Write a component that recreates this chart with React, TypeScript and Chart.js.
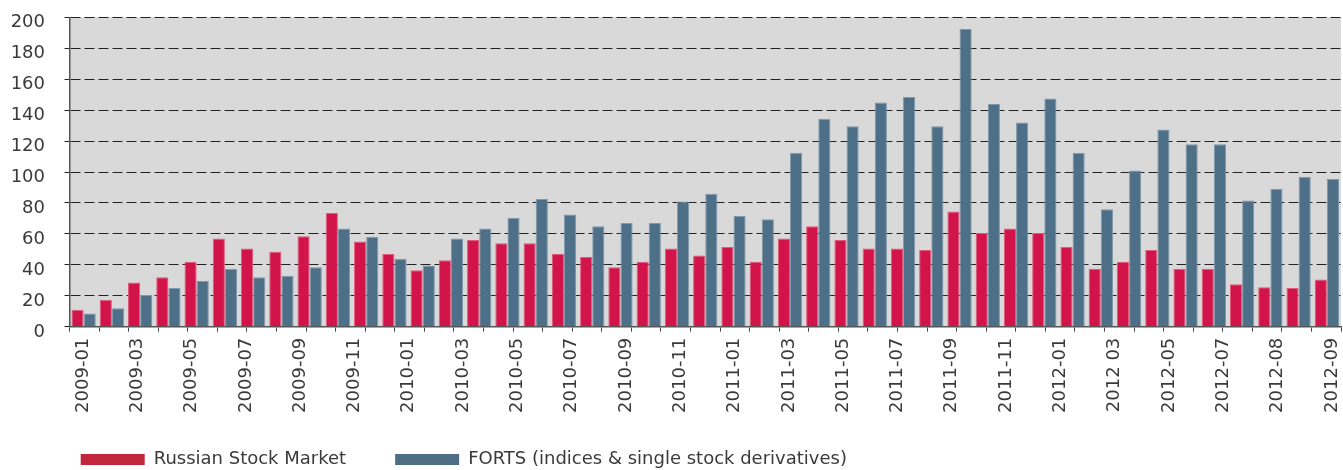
import { useEffect, useRef } from "react";
import { Chart, registerables } from "chart.js";

Chart.register(...registerables);

// ---------- data ----------
const categories = [
  "2009-01", "2009-02", "2009-03", "2009-04", "2009-05", "2009-06", "2009-07", "2009-08", "2009-09", "2009-10", "2009-11", "2009-12",
  "2010-01", "2010-02", "2010-03", "2010-04", "2010-05", "2010-06", "2010-07", "2010-08", "2010-09", "2010-10", "2010-11", "2010-12",
  "2011-01", "2011-02", "2011-03", "2011-04", "2011-05", "2011-06", "2011-07", "2011-08", "2011-09", "2011-10", "2011-11", "2011-12",
  "2012-01", "2012-02", "2012-03", "2012-04", "2012-05", "2012-06", "2012-07", "2012-08", "2012-09",
];

const russianStockMarket = [
  11, 17.5, 28.5, 32, 42, 57, 50.5, 48.5, 58.5, 73.5, 55, 47,
  36.5, 43, 56, 54, 54, 47, 45, 38.5, 42, 50.5, 46, 51.5,
  42, 57, 65, 56, 50.5, 50.5, 49.5, 74.5, 60.5, 63.5, 60.5, 51.5,
  37.5, 42, 49.5, 37.5, 37.5, 27.5, 25.5, 25, 30.5,
];

const forts = [
  8.5, 12, 20.5, 25, 29.5, 37.5, 32, 33, 38.5, 63.5, 58, 44,
  39.5, 57, 63.5, 70.5, 82.5, 72.5, 65, 67, 67, 81, 86, 71.5,
  69.5, 112.5, 134.5, 129.5, 145, 148.5, 129.5, 192.5, 144, 132, 147.5, 112.5,
  76, 101, 127.5, 118, 118, 81.5, 89, 97, 95.5,
];

const xTickLabels = [
  "2009-01", "2009-03", "2009-05", "2009-07", "2009-09", "2009-11",
  "2010-01", "2010-03", "2010-05", "2010-07", "2010-09", "2010-11",
  "2011-01", "2011-03", "2011-05", "2011-07", "2011-09", "2011-11",
  "2012-01", "2012 03", "2012-05", "2012-07", "2012-08", "2012-09",
];

const seriesNames = ["Russian Stock Market", "FORTS (indices & single stock derivatives)"];

const Y_MIN = 0;
const Y_MAX = 200;
const Y_STEP = 20;
const TICK_MARK_COUNT = 44; // tick marks along the bottom axis

// ---------- styles ----------
const FONT_FAMILY = "'DejaVu Sans', 'Liberation Sans', sans-serif";
const FONT_SIZE = 18;
const TEXT_COLOR = "#3a3a3a";
const RED = "#d2144a";
const RED_EDGE = "#e05a7a";
const BLUE = "#4d6f87";
const BLUE_EDGE = "#7f98ab";
const LEGEND_RED = "#c2263f";
const LEGEND_BLUE = "#4e6e86";
const PLOT_BG = "#d9d9d9";
const GRID_COLOR = "#222222";
const AXIS_COLOR = "#555555";

const CHART_TOP = 17.3;
const Y_AXIS_WIDTH = 69.5;
const TICK_AXIS_HEIGHT = 6;
const LABEL_AXIS_HEIGHT = 107.3;
const LEGEND_MAX_HEIGHT = 30;
const LEGEND_PADDING = 49;
const LABEL_MIN = -0.2486;
const LABEL_MAX = 23.168;
const LEGEND_DX = 31.7;
const LEGEND_TOP = 401.5;
const LEGEND_BOTTOM = 470;

const plotBackground = {
  id: "plotBackground",
  beforeDraw(chart: any) {
    const { ctx, chartArea: a } = chart;
    ctx.save();
    ctx.fillStyle = PLOT_BG;
    ctx.fillRect(a.left, a.top, a.right - a.left, a.bottom - a.top);
    ctx.restore();
  },
};

// place the legend block (its own box is kept small so the tick labels have room)
const legendPlacement = {
  id: "legendPlacement",
  afterLayout(chart: any) {
    const l = chart.legend;
    if (!l) return;
    l.left += LEGEND_DX;
    l.right += LEGEND_DX;
    l.top = LEGEND_TOP;
    l.bottom = LEGEND_BOTTOM;
    l.height = LEGEND_BOTTOM - LEGEND_TOP;
  },
};

export default function App() {
  const canvasRef = useRef<HTMLCanvasElement | null>(null);

  useEffect(() => {
    if (!canvasRef.current) return;
    const font = { family: FONT_FAMILY, size: FONT_SIZE };
    const legendColors = [LEGEND_RED, LEGEND_BLUE];

    const chart = new Chart(canvasRef.current, {
      type: "bar",
      data: {
        labels: categories,
        datasets: [
          {
            label: seriesNames[0],
            data: russianStockMarket,
            backgroundColor: RED,
            borderColor: RED_EDGE,
            borderWidth: 1,
            xAxisID: "x",
            yAxisID: "y",
            categoryPercentage: 0.86,
            barPercentage: 1,
          },
          {
            label: seriesNames[1],
            data: forts,
            backgroundColor: BLUE,
            borderColor: BLUE_EDGE,
            borderWidth: 1,
            xAxisID: "x",
            yAxisID: "y",
            categoryPercentage: 0.86,
            barPercentage: 1,
          },
        ],
      },
      options: {
        responsive: false,
        animation: false,
        devicePixelRatio: 1,
        layout: { padding: { top: CHART_TOP, right: 2, left: 0, bottom: 0 } },
        plugins: {
          tooltip: { enabled: false },
          title: { display: false },
          legend: {
            position: "bottom",
            align: "start",
            maxHeight: LEGEND_MAX_HEIGHT,
            labels: {
              boxWidth: 64,
              boxHeight: 11,
              padding: LEGEND_PADDING,
              font,
              color: TEXT_COLOR,
              generateLabels: (c: any) => {
                const items = (Chart as any).defaults.plugins.legend.labels.generateLabels(c);
                return items.map((it: any, i: number) => ({
                  ...it,
                  fillStyle: legendColors[i],
                  strokeStyle: legendColors[i],
                  lineWidth: 0,
                }));
              },
            },
          },
        },
        scales: {
          x: {
            type: "category",
            display: false,
            offset: true,
            grid: { display: false },
          },
          xTicks: {
            type: "linear",
            position: "bottom",
            weight: 0,
            offset: false,
            min: 0,
            max: TICK_MARK_COUNT - 1,
            afterBuildTicks: (s: any) => {
              s.ticks = Array.from({ length: TICK_MARK_COUNT }, (_, i) => ({ value: i }));
            },
            ticks: { display: false },
            grid: {
              display: true,
              offset: false,
              drawOnChartArea: false,
              drawTicks: true,
              tickLength: 5,
              color: "#444444",
              lineWidth: 1,
            },
            border: { display: true, color: AXIS_COLOR, width: 1.5 },
            afterFit: (s: any) => {
              s.height = TICK_AXIS_HEIGHT;
              s.paddingLeft = 0;
              s.paddingRight = 0;
            },
          },
          xLabels: {
            type: "linear",
            position: "bottom",
            weight: 1,
            offset: false,
            min: LABEL_MIN,
            max: LABEL_MAX,
            afterBuildTicks: (s: any) => {
              s.ticks = xTickLabels.map((_, i) => ({ value: i }));
            },
            ticks: {
              autoSkip: false,
              maxRotation: 90,
              minRotation: 90,
              padding: 5,
              font,
              color: TEXT_COLOR,
              callback: (_v: any, i: number) => xTickLabels[i],
            },
            grid: { display: false, offset: false, drawTicks: false },
            border: { display: false },
            afterFit: (s: any) => {
              s.height = LABEL_AXIS_HEIGHT;
              s.paddingLeft = 0;
              s.paddingRight = 0;
            },
          },
          y: {
            type: "linear",
            position: "left",
            min: Y_MIN,
            max: Y_MAX,
            ticks: {
              stepSize: Y_STEP,
              padding: 19.5,
              labelOffset: 5.5,
              font,
              color: TEXT_COLOR,
            },
            grid: {
              color: (ctx: any) => (ctx.tick && ctx.tick.value === 0 ? "rgba(0,0,0,0)" : GRID_COLOR),
              tickColor: GRID_COLOR,
              lineWidth: 1,
              tickLength: 5,
            },
            border: { display: true, color: AXIS_COLOR, width: 1.5, dash: [10, 4] },
            afterFit: (s: any) => {
              s.width = Y_AXIS_WIDTH;
              s.paddingTop = 0;
              s.paddingBottom = 0;
            },
          },
        },
      },
      plugins: [plotBackground, legendPlacement],
    } as any);

    return () => chart.destroy();
  }, []);

  return (
    <div style={{ position: "absolute", left: 0, top: 0, width: 1343, height: 470, background: "#ffffff" }}>
      <canvas ref={canvasRef} width={1343} height={470} style={{ display: "block" }} />
    </div>
  );
}
